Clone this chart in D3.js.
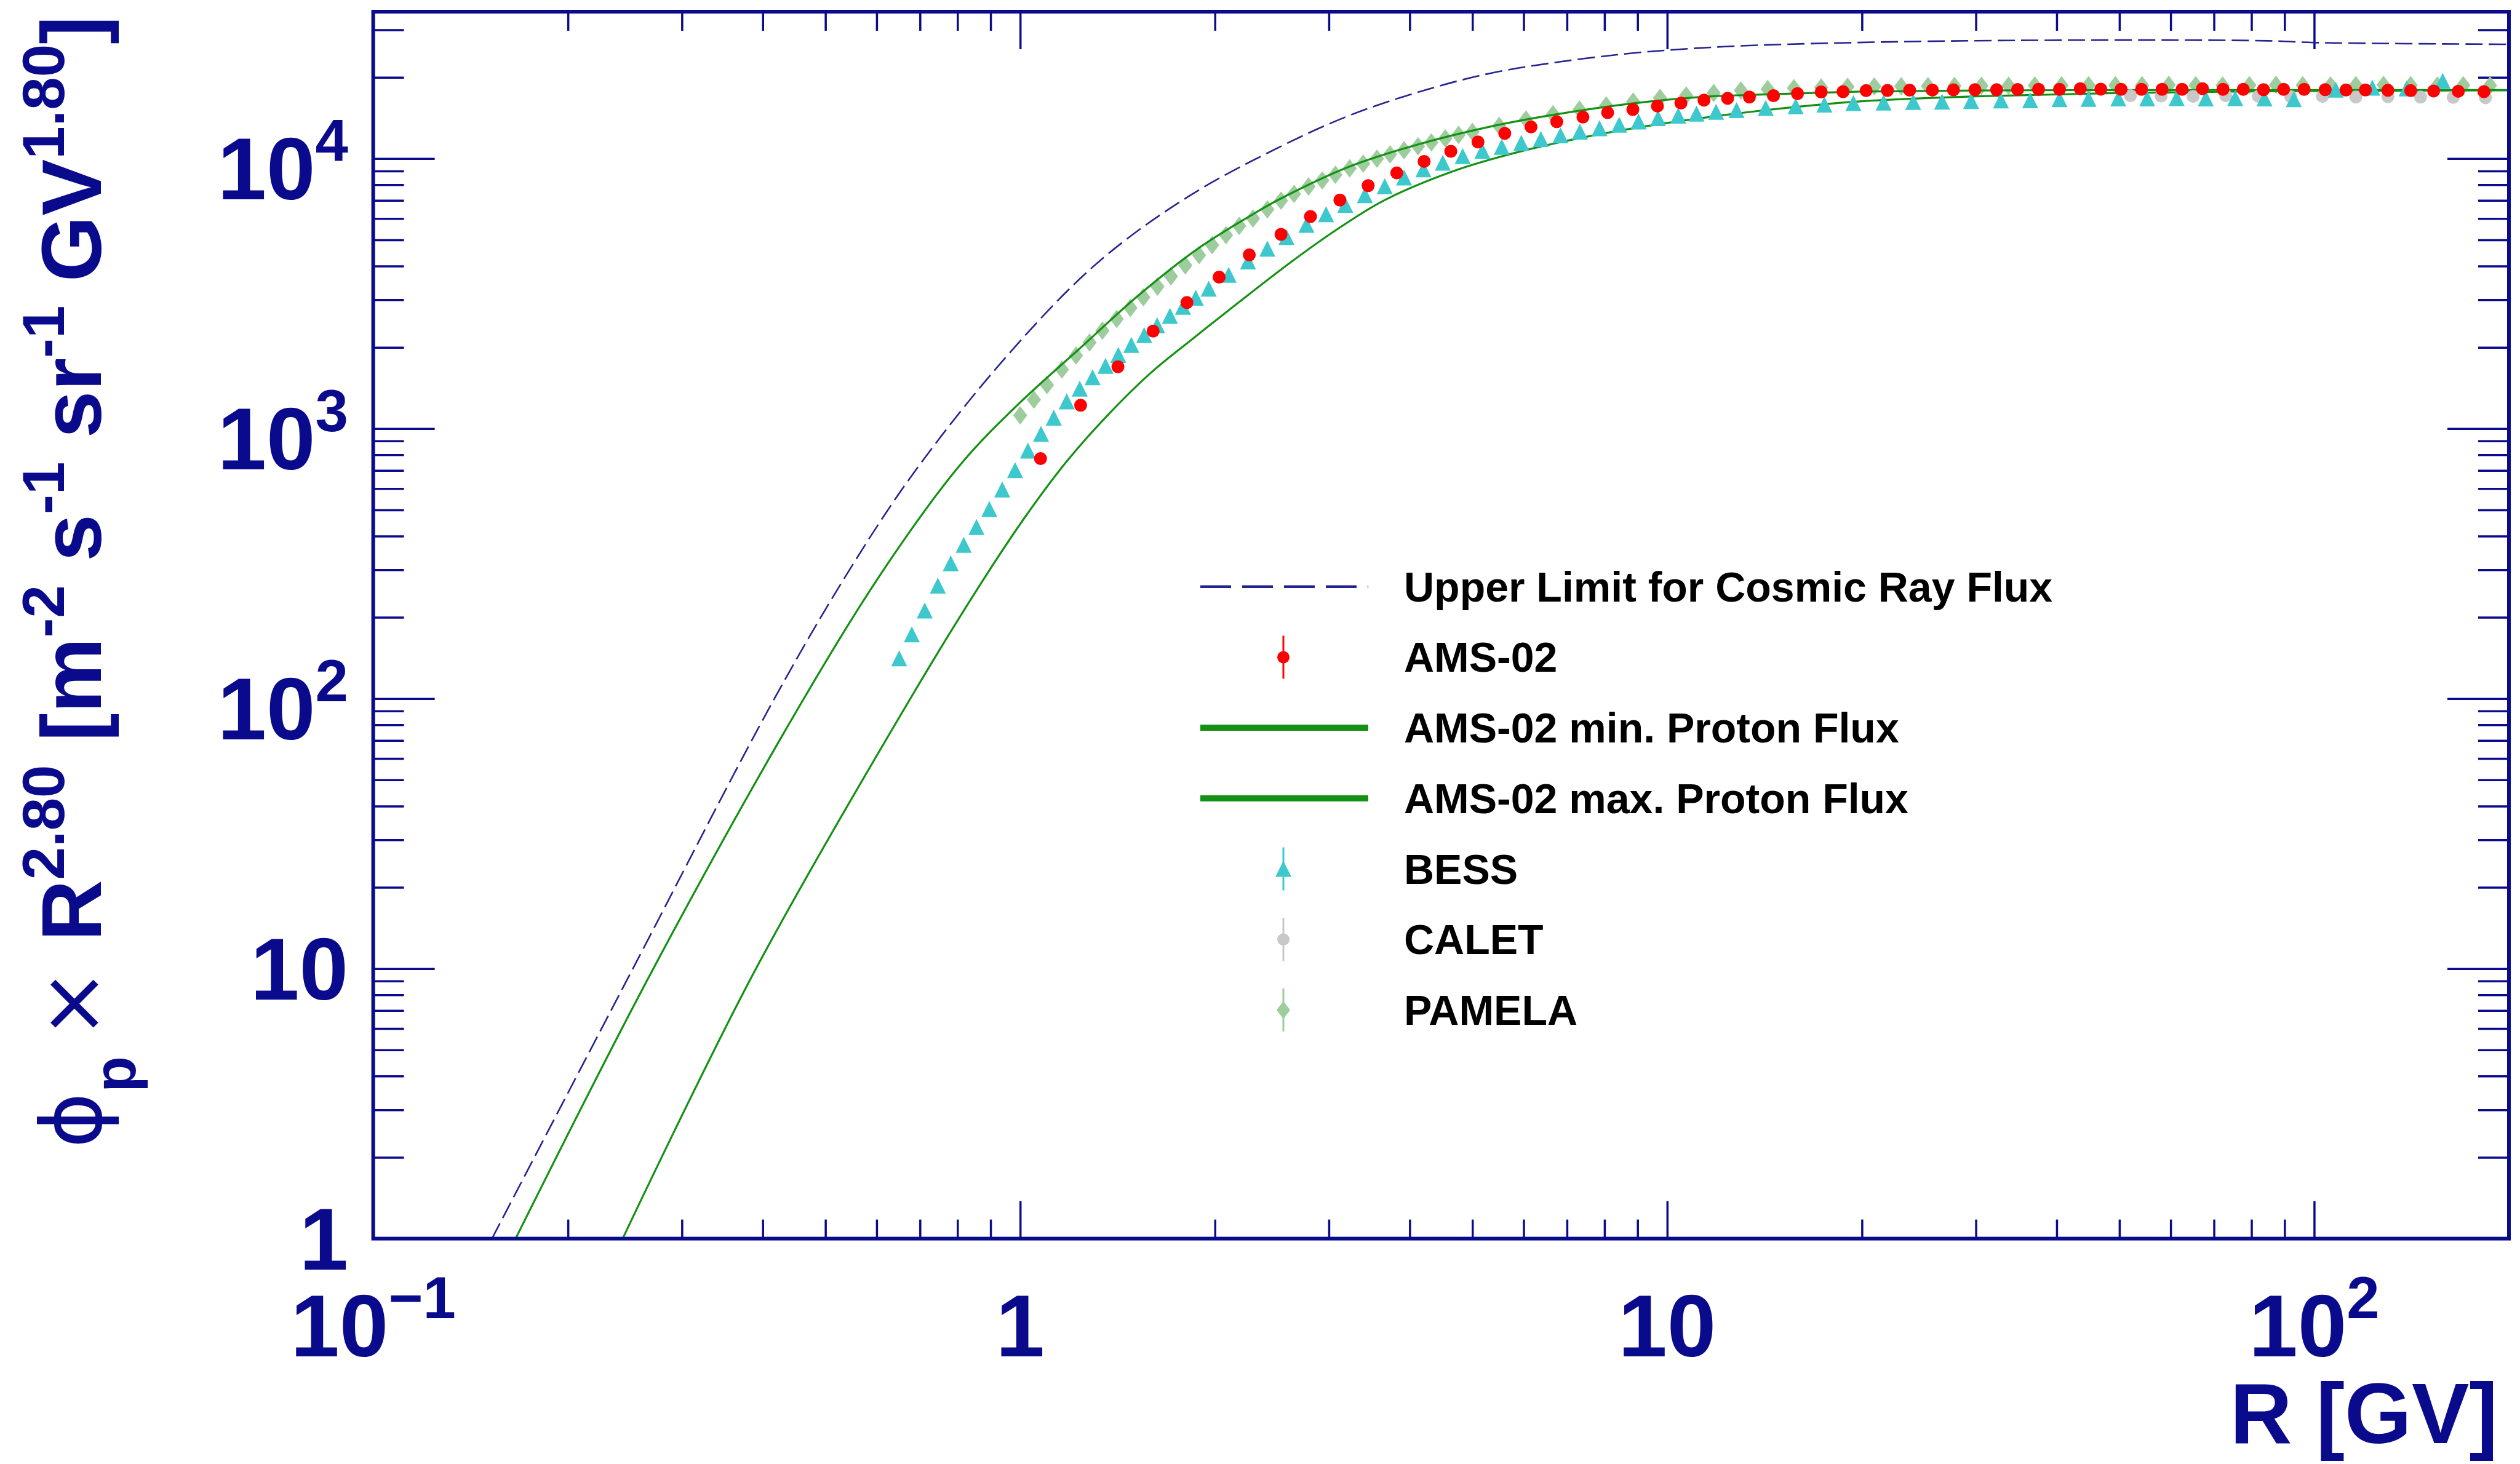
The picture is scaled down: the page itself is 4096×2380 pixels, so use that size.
<!DOCTYPE html>
<html><head><meta charset="utf-8">
<script src="https://cdn.jsdelivr.net/npm/d3@7"></script>
<style>html,body{margin:0;padding:0;background:#fff}</style>
</head><body>
<svg id="c" width="4096" height="2380"></svg>
<script>
// ---------------- data ----------------
const xTickValues = [0.1, 1, 10, 100];
const xTickBase   = ["10", "1", "10", "10"];
const xTickSup    = ["\u22121", "", "", "2"];
const xMinorTicks = [0.2,0.3,0.4,0.5,0.6,0.7,0.8,0.9,2,3,4,5,6,7,8,9,20,30,40,50,60,70,80,90];

const yTickValues = [1, 10, 100, 1000, 10000];
const yTickBase   = ["1", "10", "10", "10", "10"];
const yTickSup    = ["", "", "2", "3", "4"];
const yMinorTicks = [2,3,4,5,6,7,8,9,20,30,40,50,60,70,80,90,200,300,400,500,600,700,800,900,
                     2000,3000,4000,5000,6000,7000,8000,9000,20000,30000];

// Upper limit for cosmic ray flux (dashed)
const ulR = [0.1526, 0.252, 0.417, 0.549, 0.689, 0.952, 1.315, 1.82, 2.51, 3.22, 4.13, 5.30, 6.80, 8.72, 10.0, 12.7, 19.6, 34.6, 85, 100, 200];
const ulF = [1, 10, 100, 309, 700, 1848, 4100, 7240, 11000, 14410, 17650, 20640, 22800, 24500, 25200, 26090, 26900, 27400, 27300, 26900, 26500];

// AMS-02 proton flux bands (green)
const maxFluxR = [0.166, 0.271, 0.463, 0.615, 0.81, 1.0, 1.236, 1.52, 1.88, 2.31, 2.51, 3.22, 4.13, 5.30, 6.80, 8.72, 11.2, 13.8, 20, 30, 50, 100, 200];
const maxFluxF = [1, 10, 100, 300, 740, 1250, 1980, 3100, 4630, 6300, 7050, 9320, 11300, 13100, 14640, 15950, 16900, 17250, 17700, 17880, 17950, 17950, 17950];
const minFluxR = [0.243, 0.387, 0.683, 0.867, 1.016, 1.178, 1.37, 1.59, 1.848, 2.145, 2.62, 3.1, 3.65, 4.68, 6.0, 7.71, 9.89, 13.8, 20, 30, 50, 100, 200];
const minFluxF = [1, 9.6, 104, 264, 468, 752, 1131, 1605, 2151, 2855, 4134, 5500, 7000, 9000, 10700, 12200, 13500, 15000, 16300, 17000, 17500, 17800, 17900];

// AMS-02 points
const amsR = [1.075,1.24,1.416,1.605,1.81,2.03,2.26,2.53,2.81,3.12,3.45,3.82,4.21,4.63,5.10,5.61,6.16,6.75,7.41,8.09,8.85,9.66,10.5,11.4,12.4,13.4,14.6,15.9,17.3,18.7,20.3,21.9,23.7,25.7,27.7,29.9,32.3,34.8,37.5,40.4,43.5,46.8,50.3,54.1,58.2,62.5,67.2,72.3,77.7,83.5,89.7,96.5,104,112,120,130,141,153,167,183];
const amsF = [774,1220,1694,2297,2930,3640,4400,5240,6100,7020,7940,8850,9760,10640,11520,12400,13100,13700,14250,14800,15200,15650,16050,16460,16720,16900,17100,17400,17650,17700,17850,17880,17920,17940,17970,17990,17990,18030,18050,18050,18150,18080,18050,18050,18050,18050,18150,18050,18050,18000,18050,18050,18000,17950,17950,17900,17850,17800,17750,17700];

// BESS points
const bessR = [0.65,0.68,0.712,0.746,0.781,0.818,0.856,0.896,0.938,0.982,1.028,1.077,1.127,1.18,1.236,1.294,1.355,1.418,1.485,1.555,1.628,1.704,1.785,1.868,1.956,2.10,2.25,2.41,2.58,2.77,2.97,3.18,3.41,3.66,3.92,4.2,4.5,4.83,5.18,5.55,5.95,6.38,6.84,7.33,7.86,8.43,9.03,9.68,10.4,11.1,11.9,12.8,14.2,15.8,17.5,19.4,21.6,24.0,26.6,29.5,32.8,36.4,40.4,44.8,49.8,55.2,61.3,68.0,75.5,83.8,93.0,108,123,139,158];
const bessF = [141,173,212,262,317,371,432,504,595,702,829,956,1097,1262,1406,1549,1708,1875,2041,2220,2414,2615,2827,3053,3300,3714,4162,4639,5126,5688,6220,6743,7322,7905,8512,9123,9650,10216,10682,11050,11434,11818,12193,12580,12957,13343,13727,14116,14417,14664,14896,15128,15407,15622,15845,16056,16130,16200,16260,16340,16420,16450,16600,16650,16700,16700,16750,16700,16750,16700,16600,18000,18300,18200,19400];

// CALET points
const calR = [52, 58, 65, 73, 82, 92, 103, 116, 130, 146, 164, 184];
const calF = [17100, 17050, 17000, 17100, 17000, 16950, 17000, 16900, 16950, 16900, 16850, 16800];

// PAMELA points
const pamR = [1.00,1.05,1.10,1.16,1.22,1.28,1.34,1.41,1.48,1.55,1.63,1.71,1.80,1.89,1.98,2.08,2.18,2.29,2.41,2.53,2.65,2.79,2.93,3.07,3.23,3.39,3.56,3.73,3.92,4.12,4.32,4.54,4.76,5.00,5.5,6.05,6.66,7.32,8.05,8.86,9.75,10.7,11.8,13.0,14.3,15.7,17.3,19.0,20.9,23.0,25.3,27.8,30.6,33.7,37.0,40.7,44.8,49.3,54.2,59.6,65.6,72.2,79.4,87.3,96.0,106,116,128,141,155,170,187];
const pamF = [1119,1280,1450,1655,1865,2085,2305,2548,2799,3065,3357,3661,4023,4392,4781,5205,5629,6000,6480,6980,7400,7880,8300,8720,9200,9580,9988,10358,10731,11110,11485,11875,12236,12545,13203,13955,14600,15170,15725,16246,16766,17130,17490,17877,18085,18230,18340,18450,18510,18540,18560,18580,18600,18620,18650,18670,18690,18700,18700,18750,18700,18650,18700,18750,18700,18650,18700,18750,18700,18650,18700,18650];

const legendLabels = ["Upper Limit for Cosmic Ray Flux", "AMS-02", "AMS-02 min. Proton Flux",
                      "AMS-02 max. Proton Flux", "BESS", "CALET", "PAMELA"];
const legendKinds  = ["dash", "ams", "line", "line", "bess", "calet", "pamela"];

// ---------------- style ----------------
const NAVY = "#0a0a8c", RED = "#ff0000", CYAN = "#3cc8cc", PAMC = "#9dcc9d",
      CALC = "#c8c8c8", GREEN = "#149114", DASHC = "#24248e";
const FONT = "'Liberation Sans', Arial, Helvetica, sans-serif";

const M = {left: 606.6, right: 4078, top: 19, bottom: 2013.6};
const svg = d3.select("#c");
svg.append("rect").attr("width", 4096).attr("height", 2380).attr("fill", "#fff");

const x = d3.scaleLog().domain([0.1, 200]).range([M.left, M.right]);
const y = d3.scaleLog().domain([1, 35000]).range([M.bottom, M.top]);

svg.append("defs").append("clipPath").attr("id", "clip")
  .append("rect").attr("x", M.left).attr("y", M.top)
  .attr("width", M.right - M.left).attr("height", M.bottom - M.top);

// ---------------- axes ticks ----------------
function styleAxis(g){
  g.select(".domain").remove();
  g.selectAll(".tick text").remove();
  g.selectAll(".tick line").attr("stroke", NAVY).attr("stroke-width", 3.5);
}
const noFmt = () => "";
const axes = [
  [d3.axisBottom(x), xTickValues, -61, `translate(0,${M.bottom})`],
  [d3.axisBottom(x), xMinorTicks, -31, `translate(0,${M.bottom})`],
  [d3.axisTop(x),    xTickValues, -61, `translate(0,${M.top})`],
  [d3.axisTop(x),    xMinorTicks, -31, `translate(0,${M.top})`],
  [d3.axisLeft(y),   yTickValues, -100, `translate(${M.left},0)`],
  [d3.axisLeft(y),   yMinorTicks, -50, `translate(${M.left},0)`],
  [d3.axisRight(y),  yTickValues, -100, `translate(${M.right},0)`],
  [d3.axisRight(y),  yMinorTicks, -50, `translate(${M.right},0)`]
];
axes.forEach(([ax, vals, len, tr]) => {
  svg.append("g").attr("transform", tr)
    .call(ax.tickValues(vals).tickSizeInner(len).tickSizeOuter(0).tickFormat(noFmt))
    .call(styleAxis);
});

// ---------------- tick labels ----------------
const LBL = 143, SUP = 96, RAISE = 62;
function addLabel(t, base, sup){
  t.append("tspan").text(base);
  if (sup) t.append("tspan").attr("dy", -RAISE).attr("font-size", SUP).text(sup);
}
xTickValues.forEach((v, i) => {
  const t = svg.append("text").attr("x", x(v)).attr("y", 2205)
    .attr("text-anchor", "middle").attr("font-family", FONT).attr("font-weight", "bold")
    .attr("font-size", LBL).attr("fill", NAVY);
  addLabel(t, xTickBase[i], xTickSup[i]);
});
yTickValues.forEach((v, i) => {
  const t = svg.append("text").attr("x", 566).attr("y", y(v) + (yTickSup[i] ? 66 : 50))
    .attr("text-anchor", "end").attr("font-family", FONT).attr("font-weight", "bold")
    .attr("font-size", LBL).attr("fill", NAVY);
  addLabel(t, yTickBase[i], yTickSup[i]);
});

// ---------------- axis titles ----------------
svg.append("text").attr("x", 4060).attr("y", 2346).attr("text-anchor", "end")
  .attr("font-family", FONT).attr("font-weight", "bold").attr("font-size", 140)
  .attr("fill", NAVY).text("R [GV]");

const yt = svg.append("text").attr("transform", "translate(164,26) rotate(-90)")
  .attr("text-anchor", "end").attr("font-family", FONT).attr("font-weight", "bold")
  .attr("font-size", 138).attr("fill", NAVY);
const titleSegs = [
  {t: "\u03d5", k: "sym"}, {t: "p", k: "sub"}, {t: "\u2009\u00d7 ", k: "sym"}, {t: "R", k: "n"},
  {t: "2.80", k: "sup"}, {t: " [m", k: "n"}, {t: "-2", k: "sup"}, {t: " s", k: "n"},
  {t: "-1", k: "sup"}, {t: " sr", k: "n"}, {t: "-1", k: "sup"}, {t: " GV", k: "n"},
  {t: "1.80", k: "sup"}, {t: "]", k: "n"}
];
let cur = 0;
titleSegs.forEach(s => {
  const target = s.k === "sup" ? -60 : (s.k === "sub" ? 56 : 0);
  const ts = yt.append("tspan").attr("dy", target - cur).text(s.t);
  cur = target;
  if (s.k === "sup" || s.k === "sub") ts.attr("font-size", 96);
  if (s.k === "sym") ts.attr("font-weight", "normal").attr("font-family", "'DejaVu Sans', sans-serif");
});

// ---------------- data layers ----------------
const plot = svg.append("g").attr("clip-path", "url(#clip)");
const line = d3.line().x(d => x(d[0])).y(d => y(d[1])).curve(d3.curveCatmullRom.alpha(0.5));
const zip = (a, b) => a.map((v, i) => [v, b[i]]);

const triPath = (w, h) => `M0,${-h/2}L${w/2},${h/2}L${-w/2},${h/2}Z`;
const diaPath = (w, h) => `M0,${-h/2}L${w/2},0L0,${h/2}L${-w/2},0Z`;

// PAMELA
plot.append("g").selectAll("path").data(zip(pamR, pamF)).join("path")
  .attr("transform", d => `translate(${x(d[0])},${y(d[1])})`)
  .attr("d", diaPath(23, 30)).attr("fill", PAMC);

// curves
plot.append("path").datum(zip(ulR, ulF)).attr("d", line).attr("fill", "none")
  .attr("stroke", DASHC).attr("stroke-width", 2.6).attr("stroke-dasharray", "28,10");
plot.append("path").datum(zip(maxFluxR, maxFluxF)).attr("d", line).attr("fill", "none")
  .attr("stroke", GREEN).attr("stroke-width", 3.2);
plot.append("path").datum(zip(minFluxR, minFluxF)).attr("d", line).attr("fill", "none")
  .attr("stroke", GREEN).attr("stroke-width", 3.2);

// CALET
plot.append("g").selectAll("circle").data(zip(calR, calF)).join("circle")
  .attr("cx", d => x(d[0])).attr("cy", d => y(d[1])).attr("r", 10.5).attr("fill", CALC);
// BESS
plot.append("g").selectAll("path").data(zip(bessR, bessF)).join("path")
  .attr("transform", d => `translate(${x(d[0])},${y(d[1])})`)
  .attr("d", triPath(26, 26)).attr("fill", CYAN);
// AMS-02
plot.append("g").selectAll("circle").data(zip(amsR, amsF)).join("circle")
  .attr("cx", d => x(d[0])).attr("cy", d => y(d[1])).attr("r", 10.5).attr("fill", RED);

// frame
svg.append("rect").attr("x", M.left).attr("y", M.top)
  .attr("width", M.right - M.left).attr("height", M.bottom - M.top)
  .attr("fill", "none").attr("stroke", NAVY).attr("stroke-width", 6);

// ---------------- legend ----------------
const LG = {x1: 1951, x2: 2224, xm: 2086, xt: 2282, y0: 953.7, dy: 114.7, fs: 68};
const leg = svg.append("g");
legendLabels.forEach((lab, i) => {
  const cy = LG.y0 + i * LG.dy;
  const k = legendKinds[i];
  if (k === "dash") {
    leg.append("line").attr("x1", LG.x1).attr("x2", LG.x2).attr("y1", cy).attr("y2", cy)
      .attr("stroke", DASHC).attr("stroke-width", 4.5).attr("stroke-dasharray", "50,18");
  } else if (k === "line") {
    leg.append("line").attr("x1", LG.x1).attr("x2", LG.x2).attr("y1", cy).attr("y2", cy)
      .attr("stroke", GREEN).attr("stroke-width", 10);
  } else {
    const col = {ams: RED, bess: CYAN, calet: CALC, pamela: PAMC}[k];
    leg.append("line").attr("x1", LG.xm).attr("x2", LG.xm).attr("y1", cy - 35).attr("y2", cy + 35)
      .attr("stroke", col).attr("stroke-width", 3);
    if (k === "ams" || k === "calet") {
      leg.append("circle").attr("cx", LG.xm).attr("cy", cy).attr("r", 10).attr("fill", col);
    } else if (k === "bess") {
      leg.append("path").attr("transform", `translate(${LG.xm},${cy})`).attr("d", triPath(26, 26)).attr("fill", col);
    } else {
      leg.append("path").attr("transform", `translate(${LG.xm},${cy})`).attr("d", diaPath(22, 29)).attr("fill", col);
    }
  }
  leg.append("text").attr("x", LG.xt).attr("y", cy + 24).attr("font-family", FONT)
    .attr("font-weight", "bold").attr("font-size", LG.fs).attr("fill", "#000").text(lab);
});
</script>
</body></html>
